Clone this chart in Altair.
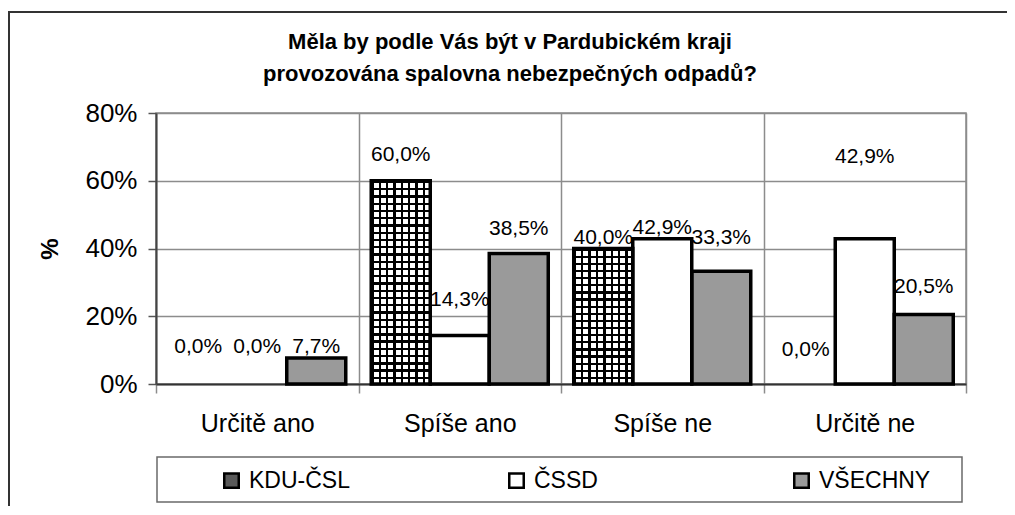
import altair as alt
import pandas as pd

# ---- data ----
odpovedi = ["Určitě ano", "Spíše ano", "Spíše ne", "Určitě ne"]
strany = ["KDU-ČSL", "ČSSD", "VŠECHNY"]
kdu = [0.000, 0.600, 0.400, 0.000]
cssd = [0.000, 0.143, 0.429, 0.429]
vsechny = [0.077, 0.385, 0.333, 0.205]
# vertical level (in data units) where each value label sits in the picture
kdu_label = [0.108, 0.676, 0.431, 0.100]
cssd_label = [0.108, 0.248, 0.461, 0.670]
vsechny_label = [0.108, 0.458, 0.431, 0.286]
y_ticks = [0.0, 0.2, 0.4, 0.6, 0.8]
title_lines = ["Měla by podle Vás být v Pardubickém kraji",
               "provozována spalovna nebezpečných odpadů?"]

rows = []
for s, vals, labs in zip(strany, [kdu, cssd, vsechny], [kdu_label, cssd_label, vsechny_label]):
    for o, v, l in zip(odpovedi, vals, labs):
        rows.append({"odpoved": o, "strana": s, "podil": v, "uroven": l})
df = pd.DataFrame(rows)

FONT = "Liberation Sans"
W, H = 810, 271
GRID = "#8c8c8c"


def stripes(n, frac, along_x, on, off):
    stops = []
    for i in range(n):
        a, b, c = i / n, (i + frac) / n, (i + 1) / n
        stops += [{"offset": a, "color": on}, {"offset": b, "color": on},
                  {"offset": b, "color": off}, {"offset": c, "color": off}]
    g = {"gradient": "linear", "stops": stops, "x1": 0, "y1": 0}
    if along_x:
        g.update({"x2": 1, "y2": 0})
    else:
        g.update({"x2": 0, "y2": 1})
    return g


x_enc = alt.X("odpoved:N", sort=odpovedi,
              scale=alt.Scale(paddingInner=0, paddingOuter=0),
              axis=alt.Axis(title=None, tickBand="extent", grid=True, gridColor=GRID,
                            gridWidth=1.5, domainColor="#333333", domainWidth=2,
                            tickColor=GRID, tickWidth=1.5, tickSize=9,
                            labelFont=FONT, labelFontSize=25, labelColor="black",
                            labelPadding=18, labelAngle=0))
xo_enc = alt.XOffset("strana:N", sort=strany,
                     scale=alt.Scale(paddingInner=0, paddingOuter=0.216))
y_axis = alt.Axis(title="%", values=y_ticks, format=".0%", grid=True, gridColor=GRID,
                  gridWidth=1.5, domainColor="#444444", domainWidth=2,
                  tickColor="#555555", tickWidth=1.5, tickSize=8,
                  labelFont=FONT, labelFontSize=26, labelColor="black", labelPadding=11,
                  titleFont=FONT, titleFontSize=24, titleFontWeight="bold",
                  titleColor="black", titleX=-106, titleY=H / 2, titleBaseline="middle")
y_scale = alt.Scale(domain=[0, 0.8], nice=False)

base = alt.Chart(df).transform_filter("datum.podil > 0")

fill_layer = base.mark_bar(strokeWidth=0).encode(
    x=x_enc, xOffset=xo_enc,
    y=alt.Y("podil:Q", scale=y_scale, axis=y_axis),
    fill=alt.Fill("strana:N", sort=strany,
                  scale=alt.Scale(domain=strany, range=["#5a5a5a", "white", "#9a9a9a"]),
                  legend=alt.Legend(title=None, orient="none", legendX=64, legendY=356,
                                    direction="horizontal", columns=3, gridAlign="all",
                                    columnPadding=143, labelFont=FONT, labelFontSize=23,
                                    labelColor="black", labelOffset=6,
                                    symbolType="square", symbolSize=210,
                                    symbolStrokeColor="black", symbolStrokeWidth=2.5,
                                    symbolOpacity=1)),
)

kdu_v = base.transform_filter(alt.datum.strana == strany[0]).mark_bar(
    fill=stripes(8, 0.32, True, "black", "white"), strokeWidth=0
).encode(x=x_enc, xOffset=xo_enc, y=alt.Y("podil:Q", scale=y_scale, axis=y_axis))

kdu_h_layers = []
for o, v in zip(odpovedi, kdu):
    if v > 0:
        n = max(1, round(v / 0.8 * H / 7.3))
        kdu_h_layers.append(
            base.transform_filter((alt.datum.strana == strany[0]) & (alt.datum.odpoved == o))
            .mark_bar(fill=stripes(n, 0.32, False, "black", "rgba(255,255,255,0)"), strokeWidth=0)
            .encode(x=x_enc, xOffset=xo_enc, y=alt.Y("podil:Q", scale=y_scale, axis=y_axis))
        )

outline = base.mark_bar(fillOpacity=0, stroke="black", strokeWidth=3.5).encode(
    x=x_enc, xOffset=xo_enc, y=alt.Y("podil:Q", scale=y_scale, axis=y_axis))

labels = alt.Chart(df).transform_calculate(
    txt="replace(format(datum.podil, '.1%'), '.', ',')"
).mark_text(font=FONT, fontSize=21, color="black", baseline="middle", align="center").encode(
    x=x_enc, xOffset=xo_enc,
    y=alt.Y("uroven:Q", scale=y_scale, axis=y_axis),
    text="txt:N")

one = alt.Data(values=[{"k": 1}])
title1 = alt.Chart(one).mark_text(text=title_lines[0], font=FONT, fontSize=22, fontWeight="bold",
                                  color="black", align="center", baseline="middle").encode(
    x=alt.value(354), y=alt.value(-71))
title2 = alt.Chart(one).mark_text(text=title_lines[1], font=FONT, fontSize=22, fontWeight="bold",
                                  color="black", align="center", baseline="middle").encode(
    x=alt.value(354), y=alt.value(-39))
frame_top = alt.Chart(one).mark_rule(color="#333333", strokeWidth=2).encode(
    x=alt.value(-148), x2=alt.value(W + 60), y=alt.value(-101))
frame_left = alt.Chart(one).mark_rule(color="#333333", strokeWidth=2).encode(
    x=alt.value(-147), y=alt.value(-102), y2=alt.value(H + 140))
legend_box = alt.Chart(one).mark_rect(fillOpacity=0, stroke="#6a6a6a", strokeWidth=1.5).encode(
    x=alt.value(1), x2=alt.value(806), y=alt.value(344), y2=alt.value(389))

chart = alt.layer(fill_layer, kdu_v, *kdu_h_layers, outline, labels,
                  title1, title2, frame_top, frame_left, legend_box).properties(
    width=W, height=H,
    autosize=alt.AutoSizeParams(type="none"),
    padding={"left": 148, "top": 105, "right": 41, "bottom": 122},
).configure_view(stroke=GRID, strokeWidth=1.5)

chart.save("out.html", embed_options={"renderer": "svg", "actions": False})
